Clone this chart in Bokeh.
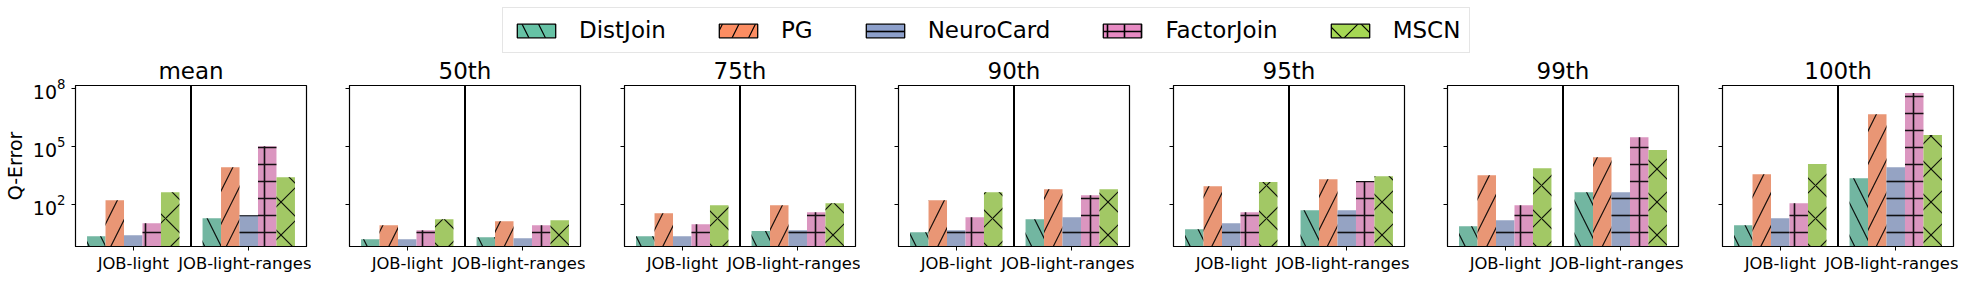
import colorsys
from bokeh.plotting import figure
from bokeh.layouts import column, row
from bokeh.models import (Range1d, FixedTicker, Span, Legend, LegendItem,
                          ColumnDataSource, CustomJSTickFormatter)
from bokeh.embed import file_html
from bokeh.resources import INLINE

# ---------------- data ----------------
stats = ["mean", "50th", "75th", "90th", "95th", "99th", "100th"]
datasets = ["JOB-light", "JOB-light-ranges"]
methods = ["DistJoin", "PG", "NeuroCard", "FactorJoin", "MSCN"]

distjoin_jl = [2.3, 1.6, 2.3, 3.7, 5.3, 7.6, 8.5]
distjoin_jlr = [19.6, 2.05, 4.2, 17.5, 51, 433, 2300]
pg_jl = [166, 8.5, 35, 166, 890, 3300, 3700]
pg_jlr = [8500, 13.8, 92, 616, 2050, 28000, 4.7e6]
neurocard_jl = [2.6, 1.6, 2.3, 4.7, 10.8, 15.5, 19.6]
neurocard_jlr = [28, 1.8, 4.7, 22, 51, 433, 8500]
factorjoin_jl = [10.8, 4.7, 9.6, 22, 40, 92, 117]
factorjoin_jlr = [104000, 8.5, 40, 305, 1620, 300000, 5.8e7]
mscn_jl = [433, 17.5, 92, 433, 1450, 7600, 12300]
mscn_jlr = [2600, 15.5, 117, 616, 2930, 65000, 390000]

y_ticks = [1e2, 1e5, 1e8]

series = [
    (distjoin_jl, distjoin_jlr),
    (pg_jl, pg_jlr),
    (neurocard_jl, neurocard_jlr),
    (factorjoin_jl, factorjoin_jlr),
    (mscn_jl, mscn_jlr),
]

# ---------------- style ----------------
FONT = "DejaVu Sans"
palette = ["#66c2a5", "#fc8d62", "#8da0cb", "#e78ac3", "#a6d854"]
hatches = ["left_diagonal_line", "right_diagonal_line", "horizontal_line",
           "cross", "diagonal_cross"]
hatch_scales = [33, 33, 17, 17, 33]
hatch_weights = [1.2, 1.2, 1.6, 1.6, 1.2]


def desaturate(hexcol, prop=0.75):
    r, g, b = (int(hexcol[i:i + 2], 16) / 255 for i in (1, 3, 5))
    h, l, s = colorsys.rgb_to_hls(r, g, b)
    r, g, b = colorsys.hls_to_rgb(h, l, s * prop)
    return "#%02x%02x%02x" % (round(r * 255), round(g * 255), round(b * 255))


bar_colors = [desaturate(c) for c in palette]

Y0 = 10 ** -0.172
Y1 = 10 ** 8.155
BAR_W = 0.16
left_borders = [71, 38, 39, 38, 39, 38, 39]

panels = []
for i, stat in enumerate(stats):
    first = i == 0
    p = figure(frame_width=231, frame_height=161,
               x_range=Range1d(-0.5, 1.5), y_range=Range1d(Y0, Y1),
               y_axis_type="log", output_backend="svg", toolbar_location=None,
               min_border_left=left_borders[i], min_border_right=5,
               min_border_top=32, min_border_bottom=29)
    p.background_fill_color = "white"
    p.border_fill_color = "white"
    p.outline_line_color = "black"
    p.outline_line_width = 1.2
    p.outline_line_alpha = 1
    p.xgrid.visible = False
    p.ygrid.visible = False

    p.title.text = stat
    p.title.align = "center"
    p.title.text_font = FONT
    p.title.text_font_size = "23px"
    p.title.text_font_style = "normal"
    p.title.text_color = "black"
    p.title.standoff = 4

    for j, (jl, jlr) in enumerate(series):
        src = ColumnDataSource(dict(
            x=[k + (j - 2) * BAR_W for k in range(len(datasets))],
            top=[jl[i], jlr[i]],
        ))
        p.vbar(x="x", top="top", bottom=Y0, width=BAR_W, source=src,
               fill_color=bar_colors[j], line_color=None,
               hatch_pattern=hatches[j], hatch_color="black",
               hatch_weight=hatch_weights[j], hatch_scale=hatch_scales[j],
               hatch_alpha=0.9)

    p.add_layout(Span(location=0.5, dimension="height", line_color="black",
                      line_width=2))

    xa = p.xaxis[0]
    xa.ticker = FixedTicker(ticks=list(range(len(datasets))), minor_ticks=[])
    xa.major_label_overrides = {k: d for k, d in enumerate(datasets)}
    xa.major_label_text_font = FONT
    xa.major_label_text_font_size = "16.4px"
    xa.major_label_text_color = "black"
    xa.major_tick_out = 4
    xa.major_tick_in = 0
    xa.minor_tick_out = 0
    xa.major_label_standoff = 3
    xa.axis_line_color = "black"
    xa.major_tick_line_color = "black"

    ya = p.yaxis[0]
    ya.ticker = FixedTicker(ticks=y_ticks, minor_ticks=[])
    ya.major_tick_out = 4
    ya.major_tick_in = 0
    ya.minor_tick_out = 0
    ya.minor_tick_in = 0
    ya.axis_line_color = "black"
    ya.major_tick_line_color = "black"
    if first:
        ya.major_label_text_font = FONT
        ya.major_label_text_font_size = "19px"
        ya.major_label_text_color = "black"
        ya.major_label_standoff = 6
        ya.axis_label = "Q-Error"
        ya.axis_label_text_font = FONT
        ya.axis_label_text_font_size = "19px"
        ya.axis_label_text_font_style = "normal"
        ya.axis_label_text_color = "black"
        ya.axis_label_standoff = 4
    else:
        ya.formatter = CustomJSTickFormatter(code="return ''")
        ya.major_label_standoff = 0
    panels.append(p)

# ---------------- legend figure ----------------
lf = figure(width=1953, height=53, x_range=Range1d(0, 1), y_range=Range1d(0, 1),
            output_backend="svg", toolbar_location=None,
            min_border_left=0, min_border_right=0, min_border_top=0,
            min_border_bottom=0)
lf.xaxis.visible = False
lf.yaxis.visible = False
lf.xgrid.visible = False
lf.ygrid.visible = False
lf.outline_line_color = None
lf.background_fill_color = "white"
lf.border_fill_color = "white"

items = []
for j, m in enumerate(methods):
    # tiny proxy glyph hidden behind the opaque legend box
    r = lf.vbar(x=[0.5], top=[0.41], bottom=0.4, width=0.0001,
                fill_color=palette[j], line_color="black", line_width=1.3,
                hatch_pattern=hatches[j], hatch_color="black",
                hatch_weight=hatch_weights[j], hatch_scale=hatch_scales[j])
    items.append(LegendItem(label=m, renderers=[r]))

legend = Legend(items=items, orientation="horizontal", location=(502, 0),
                label_text_font=FONT, label_text_font_size="23px",
                label_text_color="black",
                glyph_width=48, glyph_height=17, label_standoff=19,
                spacing=48, padding=9, margin=0,
                border_line_color="#cccccc", border_line_width=1.2,
                background_fill_color="white", background_fill_alpha=1.0)
lf.add_layout(legend, "center")

layout = column(lf, row(*panels))
open("out.html", "w").write(file_html(layout, INLINE))
